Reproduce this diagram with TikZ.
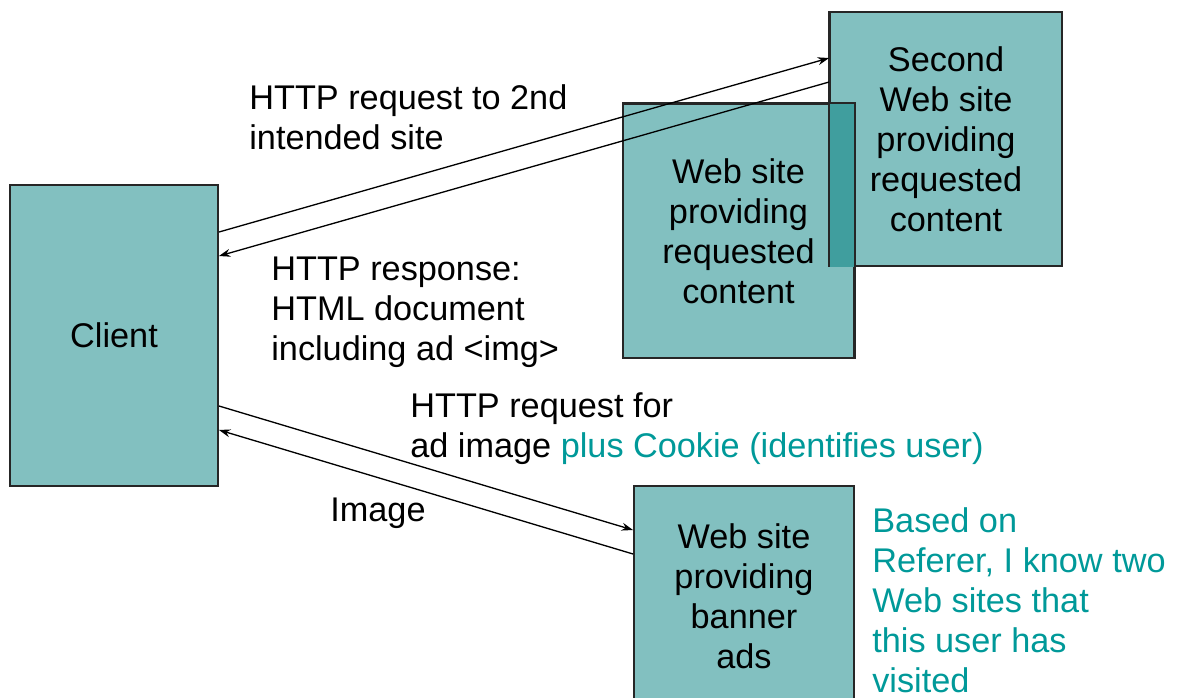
\documentclass[tikz,border=0pt]{standalone}
\usepackage{fontspec}
\setmainfont{Liberation Sans}
\usepackage{xcolor}
\usepackage{tikz}
\usetikzlibrary{arrows.meta}
\definecolor{boxteal}{RGB}{130,192,192}
\definecolor{overlapteal}{RGB}{64,158,158}
\definecolor{noteteal}{RGB}{0,153,153}

\begin{document}
\begin{tikzpicture}[
    x=0.02cm, y=-0.02cm,
    every node/.style={font=\fontsize{19.5}{22.7}\selectfont},
    site/.style={draw=black!85, line width=1.1pt, fill=boxteal, align=center, inner sep=0pt},
    lbl/.style={anchor=west, align=left, inner sep=0pt},
    note/.style={lbl, text=noteteal},
    arr/.style={->, >={Stealth[length=6.5pt,width=4.5pt]}, line width=0.75pt}
]
    \useasboundingbox (0,0) rectangle (1183,697);

    % Boxes
    \node[site, minimum width=4.16cm, minimum height=6.02cm] (client) at (114,335.5) {Client};
    \node[site, minimum width=4.62cm, minimum height=5.08cm] (content) at (738.5,231) {Web site\\providing\\requested\\content};
    \node[site, minimum width=4.64cm, minimum height=5.08cm] (second) at (946,139) {Second\\Web site\\providing\\requested\\content};
    \node[site, minimum width=4.4cm, minimum height=4.4cm] (banner) at (744,596) {Web site\\providing\\banner\\ads};

    % Overlap of the two content sites
    \fill[overlapteal] (second.south west) rectangle (content.north east);
    \draw[draw=black!85, line width=1.1pt] (second.south west) -| (second.north west);
    \draw[draw=black!85, line width=1.1pt] (content.north west) -| (content.south east);

    % Labels
    \node[lbl] (req2) at (249,117) {HTTP request to 2nd\\intended site};
    \node[lbl] (resp) at (271,312) {HTTP response:\\HTML document\\including ad <img>};
    \node[lbl] (reqad) at (410,429) {HTTP request for\\ad image \textcolor{noteteal}{plus Cookie (identifies user)}};
    \node[lbl] (img) at (330,513) {Image};
    \node[note] (referer) at (872,600) {Based on\\Referer, I know two\\Web sites that\\this user has\\visited};

    % Arrows
    \draw[arr] ([yshift=2.07cm]client.east) -- ([yshift=1.62cm]second.west);
    \draw[arr] ([yshift=1.14cm]second.west) -- ([yshift=1.59cm]client.east);
    \draw[arr] ([yshift=-1.41cm]client.east) -- ([yshift=1.32cm]banner.west);
    \draw[arr] ([yshift=0.84cm]banner.west) -- ([yshift=-1.89cm]client.east);
\end{tikzpicture}
\end{document}
